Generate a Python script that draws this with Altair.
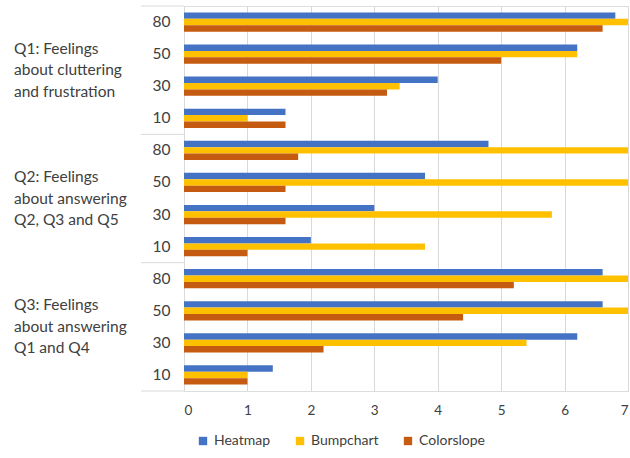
import altair as alt
import pandas as pd

groups = ["Q1", "Q2", "Q3"]
group_labels = [
    "Q1: Feelings\nabout cluttering\nand frustration",
    "Q2: Feelings\nabout answering\nQ2, Q3 and Q5",
    "Q3: Feelings\nabout answering\nQ1 and Q4",
]
levels = ["80", "50", "30", "10"]
series = ["Heatmap", "Bumpchart", "Colorslope"]
colors = ["#4472C4", "#FFC000", "#C55A11"]

heatmap = [6.8, 6.2, 4.0, 1.6, 4.8, 3.8, 3.0, 2.0, 6.6, 6.6, 6.2, 1.4]
bumpchart = [7.0, 6.2, 3.4, 1.0, 7.0, 7.0, 5.8, 3.8, 7.0, 7.0, 5.4, 1.0]
colorslope = [6.6, 5.0, 3.2, 1.6, 1.8, 1.6, 1.6, 1.0, 5.2, 4.4, 2.2, 1.0]

rows = [f"{g}|{l}" for g in groups for l in levels]
vals = {"Heatmap": heatmap, "Bumpchart": bumpchart, "Colorslope": colorslope}
recs = []
for s in series:
    for r, v in zip(rows, vals[s]):
        recs.append({"row": r, "series": s, "value": v})
df = pd.DataFrame(recs)

FONT = "Lato"
TXT = "#404040"
GRID = "#d9d9d9"

yscale = alt.Scale(domain=rows, paddingInner=0, paddingOuter=0)

bars = alt.Chart(df).mark_bar().encode(
    x=alt.X("value:Q", scale=alt.Scale(domain=[0, 7], nice=False),
            axis=alt.Axis(values=list(range(8)), title=None, grid=True, gridColor=GRID,
                          domain=False, ticks=False, labelPadding=12, labelFontSize=13.5,
                          labelColor=TXT, labelFont=FONT)),
    y=alt.Y("row:N", scale=yscale, sort=rows,
            axis=alt.Axis(title=None, labelExpr="split(datum.label,'|')[1]", ticks=False,
                          domainColor=GRID, labelPadding=14, labelFontSize=15.5,
                          labelColor=TXT, labelFont=FONT, grid=False)),
    yOffset=alt.YOffset("series:N", sort=series,
                        scale=alt.Scale(domain=series, paddingInner=0, paddingOuter=1)),
    color=alt.Color("series:N", sort=series,
                    scale=alt.Scale(domain=series, range=colors),
                    legend=alt.Legend(title=None, orient="none", direction="horizontal",
                                      legendX=12, legendY=428, symbolType="square",
                                      symbolSize=70, symbolStrokeWidth=0, labelFontSize=14,
                                      labelFont=FONT, labelColor=TXT, columnPadding=22,
                                      labelOffset=4)),
)

gdf = pd.DataFrame({"row": [f"{g}|30" for g in groups], "label": group_labels})
gtext = alt.Chart(gdf).mark_text(align="left", baseline="middle", lineBreak="\n", dy=-21.5,
                                  lineHeight=21.5, fontSize=15.5, font=FONT, color=TXT).encode(
    x=alt.value(-170),
    y=alt.Y("row:N", scale=yscale, sort=rows, bandPosition=0),
    text="label:N",
)

sep_top = pd.DataFrame({"row": [f"{g}|80" for g in groups]})
rules_top = alt.Chart(sep_top).mark_rule(color=GRID, strokeWidth=1).encode(
    x=alt.value(-43), x2=alt.value(0),
    y=alt.Y("row:N", scale=yscale, sort=rows, bandPosition=0),
)
sep_bot = pd.DataFrame({"row": [f"{groups[-1]}|{levels[-1]}"]})
rules_bot = alt.Chart(sep_bot).mark_rule(color=GRID, strokeWidth=1).encode(
    x=alt.value(-43), x2=alt.value(0),
    y=alt.Y("row:N", scale=yscale, sort=rows, bandPosition=1),
)

chart = alt.layer(bars, gtext, rules_top, rules_bot).properties(
    width=444, height=385,
    autosize=alt.AutoSizeParams(type="none"),
    padding={"left": 184, "top": 6, "right": 2, "bottom": 67},
).configure_view(stroke=None).configure(background="white")

chart.save("out.html", embed_options={"renderer": "svg", "actions": False})
